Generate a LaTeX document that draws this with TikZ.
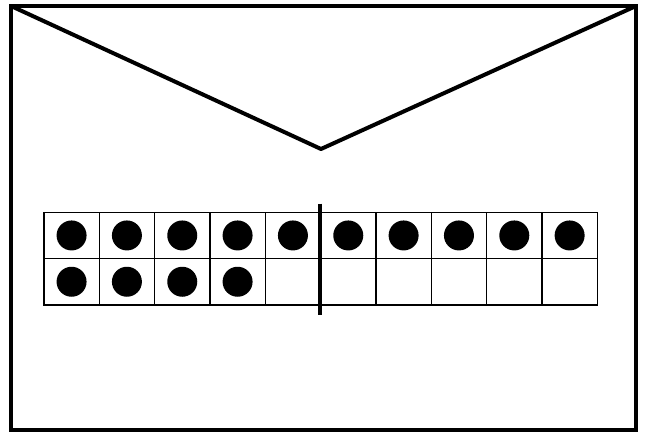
\documentclass[tikz,border=0pt]{standalone}
\begin{document}
\begin{tikzpicture}[x=1pt, y=-1pt,
  cell/.style={draw, line width=1.2pt, minimum width=55.34pt, minimum height=46.3pt, inner sep=0pt, anchor=north west},
  counter/.style={fill=black, circle, minimum size=30pt, inner sep=0pt}]
\useasboundingbox (0,0) rectangle (647,433);
% envelope
\draw[line width=4pt] (11,6) rectangle (636,430);
\draw[line width=4pt, line join=round] (11,6) -- (321,149) -- (636,6);
% ten frame
\foreach \c in {0,...,9}
  \foreach \r in {0,1}
    \node[cell] (cell-\r-\c) at (43.3+\c*55.34, 211.7+\r*46.3) {};
\foreach \c in {0,...,9} \node[counter] (dot-0-\c) at (cell-0-\c) {};
\foreach \c in {0,...,3} \node[counter] (dot-1-\c) at (cell-1-\c) {};
\draw[line width=4pt] ([yshift=8pt]cell-0-5.north west) -- ([yshift=-9pt]cell-1-5.south west);
\end{tikzpicture}
\end{document}
